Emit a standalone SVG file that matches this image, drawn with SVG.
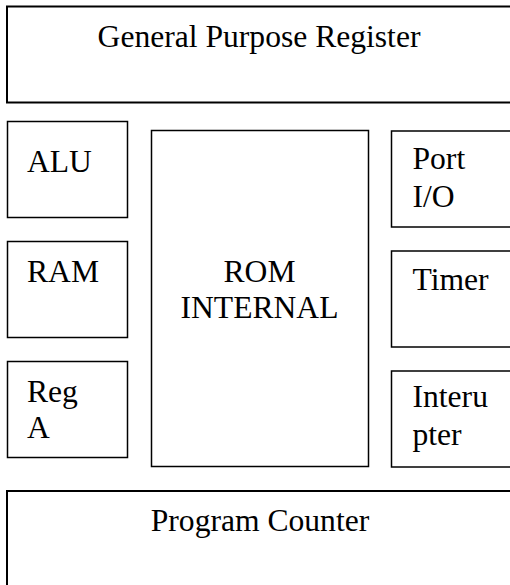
<svg xmlns="http://www.w3.org/2000/svg" width="510" height="585" viewBox="0 0 510 585">
  <style>
    .box { fill: #ffffff; stroke: #000000; stroke-width: 1.5; }
    .wide { stroke-width: 2; }
    .lbl { font-family: "Liberation Serif", "Times New Roman", serif; font-size: 31.6px; fill: #000000; }
    .mid { text-anchor: middle; }
  </style>
  <rect width="510" height="585" fill="#ffffff"/>

  <g id="general-purpose-register">
    <rect class="box wide" x="7" y="6.5" width="520" height="96"/>
    <text class="lbl mid" x="259" y="47">General Purpose Register</text>
  </g>

  <g id="alu">
    <rect class="box" x="7.5" y="121.5" width="120" height="96"/>
    <text class="lbl" x="27" y="172">ALU</text>
  </g>

  <g id="ram">
    <rect class="box" x="7.5" y="241.5" width="120" height="96"/>
    <text class="lbl" x="27" y="282">RAM</text>
  </g>

  <g id="reg-a">
    <rect class="box" x="7.5" y="361.5" width="120" height="96"/>
    <text class="lbl" x="27" y="402">Reg</text>
    <text class="lbl" x="27" y="438">A</text>
  </g>

  <g id="rom-internal">
    <rect class="box" x="151.5" y="130.5" width="217" height="336"/>
    <text class="lbl mid" x="259.5" y="282">ROM</text>
    <text class="lbl mid" x="259.5" y="318">INTERNAL</text>
  </g>

  <g id="port-io">
    <rect class="box" x="391.5" y="131" width="130" height="96"/>
    <text class="lbl" x="412.5" y="169">Port</text>
    <text class="lbl" x="412.5" y="207">I/O</text>
  </g>

  <g id="timer">
    <rect class="box" x="391.5" y="251" width="130" height="96"/>
    <text class="lbl" x="412.5" y="290">Timer</text>
  </g>

  <g id="interupter">
    <rect class="box" x="391.5" y="371" width="130" height="96"/>
    <text class="lbl" x="412.5" y="407">Interu</text>
    <text class="lbl" x="412.5" y="445">pter</text>
  </g>

  <g id="program-counter">
    <rect class="box wide" x="7" y="491" width="520" height="110"/>
    <text class="lbl mid" x="260" y="531">Program Counter</text>
  </g>

  <g id="connectors"></g>
</svg>
